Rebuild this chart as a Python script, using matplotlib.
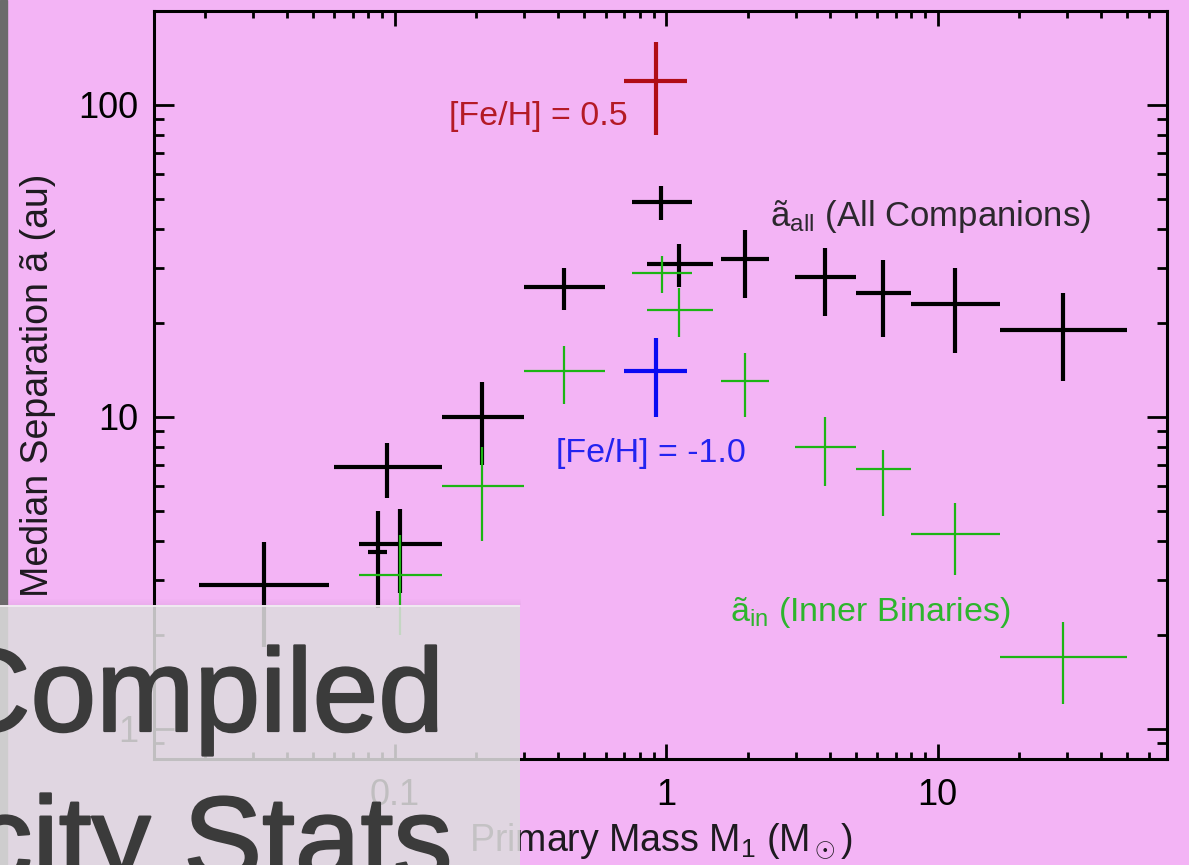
import numpy as np
import matplotlib
matplotlib.use("Agg")
import matplotlib.pyplot as plt
from matplotlib.ticker import LogLocator, FuncFormatter, NullFormatter
from matplotlib.patches import Rectangle
import matplotlib.patheffects as pe

# ---------------- data ----------------
mass_all    = [0.033, 0.094, 0.087, 0.105, 0.21, 0.42, 0.96, 1.12, 1.95, 3.86, 6.3, 11.6, 29.0]
mass_all_lo = [0.019, 0.060, 0.080, 0.074, 0.149, 0.299, 0.746, 0.848, 1.60, 2.99, 4.99, 7.97, 17.0]
mass_all_hi = [0.0575, 0.149, 0.094, 0.149, 0.299, 0.597, 1.245, 1.49, 2.39, 4.99, 7.97, 17.0, 50.0]
sep_all     = [2.9, 6.9, 3.7, 3.9, 10.0, 26.0, 48.8, 31.0, 32.0, 28.0, 25.0, 23.0, 19.0]
sep_all_lo  = [1.83, 5.5, 2.43, 2.72, 7.0, 22.0, 42.9, 26.0, 24.0, 21.0, 18.0, 16.0, 13.0]
sep_all_hi  = [3.98, 8.26, 4.98, 5.08, 12.9, 29.9, 54.8, 35.9, 39.8, 34.9, 31.9, 29.9, 24.9]

mass_in    = [0.105, 0.21, 0.42, 0.965, 1.12, 1.95, 3.86, 6.3, 11.6, 29.0]
mass_in_lo = [0.074, 0.149, 0.299, 0.748, 0.848, 1.60, 2.99, 4.99, 7.97, 17.0]
mass_in_hi = [0.149, 0.299, 0.597, 1.245, 1.49, 2.39, 4.99, 7.97, 17.0, 50.0]
sep_in     = [3.1, 6.0, 14.0, 29.0, 22.0, 13.0, 8.0, 6.8, 4.2, 1.7]
sep_in_lo  = [2.0, 4.0, 11.0, 25.0, 18.0, 10.0, 6.0, 4.8, 3.1, 1.2]
sep_in_hi  = [4.18, 8.0, 16.9, 32.9, 25.9, 16.0, 10.0, 7.8, 5.3, 2.2]

mass_feh    = [0.915, 0.915]
mass_feh_lo = [0.698, 0.698]
mass_feh_hi = [1.193, 1.193]
sep_feh     = [119.6, 14.0]
sep_feh_lo  = [80.0, 10.0]
sep_feh_hi  = [159.5, 17.9]
feh_labels  = ["[Fe/H] = 0.5", "[Fe/H] = -1.0"]

x_ticks = [0.1, 1, 10]
y_ticks = [1, 10, 100]

# ---------------- style ----------------
PINK = "#f3b4f5"
BLACK = "#000000"
GREEN = "#1cb514"
RED = "#b00d16"
BLUE = "#0a0af2"

plt.rcParams["font.family"] = ["Liberation Sans", "DejaVu Sans"]
plt.rcParams["mathtext.fontset"] = "custom"
plt.rcParams["mathtext.rm"] = "Liberation Sans"
plt.rcParams["mathtext.it"] = "Liberation Sans:italic"
plt.rcParams["mathtext.bf"] = "Liberation Sans:bold"

fig = plt.figure(figsize=(11.89, 8.65), dpi=100, facecolor=PINK)
W, H = 1189, 865
ax = fig.add_axes([154 / W, 1 - 759 / H, (1167 - 154) / W, (759 - 11) / H])
ax.set_facecolor(PINK)
ax.set_xscale("log")
ax.set_yscale("log")
ax.set_xlim(0.013, 70)
ax.set_ylim(0.8, 200)


def err(v, lo, hi):
    v = np.asarray(v); lo = np.asarray(lo); hi = np.asarray(hi)
    return np.vstack([v - lo, hi - v])


ax.errorbar(mass_all, sep_all, xerr=err(mass_all, mass_all_lo, mass_all_hi),
            yerr=err(sep_all, sep_all_lo, sep_all_hi), fmt="none",
            ecolor=BLACK, elinewidth=3.0, capsize=0, zorder=3)
ax.errorbar(mass_in, sep_in, xerr=err(mass_in, mass_in_lo, mass_in_hi),
            yerr=err(sep_in, sep_in_lo, sep_in_hi), fmt="none",
            ecolor=GREEN, elinewidth=1.6, capsize=0, zorder=4)
for i, c in enumerate([RED, BLUE]):
    ax.errorbar([mass_feh[i]], [sep_feh[i]],
                xerr=err([mass_feh[i]], [mass_feh_lo[i]], [mass_feh_hi[i]]),
                yerr=err([sep_feh[i]], [sep_feh_lo[i]], [sep_feh_hi[i]]),
                fmt="none", ecolor=c, elinewidth=3.0, capsize=0, zorder=5)

# annotations
ax.text(0.722, 86.5, feh_labels[0], color="#b41a26", fontsize=24.5,
        ha="right", va="baseline")
ax.text(0.394, 7.16, feh_labels[1], color="#2323f0", fontsize=24.5,
        ha="left", va="baseline")
ax.text(2.405, 40.8, r"ã$_{\mathrm{all}}$ (All Companions)", color="#2c282e",
        fontsize=25, ha="left", va="baseline")
ax.text(1.713, 2.21, r"ã$_{\mathrm{in}}$ (Inner Binaries)", color="#2db52d",
        fontsize=24.5, ha="left", va="baseline")

# ticks
ax.xaxis.set_major_locator(LogLocator(base=10, subs=(1.0,)))
ax.yaxis.set_major_locator(LogLocator(base=10, subs=(1.0,)))
ax.xaxis.set_minor_locator(LogLocator(base=10, subs=np.arange(2, 10)))
ax.yaxis.set_minor_locator(LogLocator(base=10, subs=np.arange(2, 10)))
ax.set_xticks(x_ticks)
ax.set_yticks(y_ticks)
fmt = FuncFormatter(lambda v, p: f"{v:g}")
ax.xaxis.set_major_formatter(fmt)
ax.yaxis.set_major_formatter(fmt)
ax.xaxis.set_minor_formatter(NullFormatter())
ax.yaxis.set_minor_formatter(NullFormatter())
ax.tick_params(axis="both", which="both", direction="in", top=True, right=True,
               colors="black", width=2.0, labelsize=26)
ax.tick_params(axis="x", which="major", length=11, pad=14)
ax.tick_params(axis="x", which="minor", length=5)
ax.tick_params(axis="y", which="major", length=14.5, pad=11)
ax.tick_params(axis="y", which="minor", length=7.2)
for s in ax.spines.values():
    s.set_linewidth(2.2)
    s.set_color("black")

ax.set_xlabel(r"Primary Mass M$_1$ (M$_\odot$)", fontsize=27, labelpad=6,
              color="#1e1a20")
ax.set_ylabel("Median Separation ã (au)", fontsize=27, labelpad=16,
              color="#1e1a20")

# ---------------- slide overlay ----------------
ov = fig.add_axes([0, 0, 1, 1], zorder=10)
ov.set_xlim(0, W)
ov.set_ylim(H, 0)
ov.axis("off")
ov.patch.set_alpha(0)
ov.add_patch(Rectangle((0, 0), 7, H, color="#6b6b6b", zorder=1))
for k in range(6):
    ov.add_patch(Rectangle((0, 605 - k - 1), 521, 1, color="#7a507a",
                           alpha=0.06 * (6 - k) / 6, lw=0, zorder=1))
ov.add_patch(Rectangle((0, 605), 520, H - 605, color="#dedcde", alpha=0.87,
                       lw=0, zorder=2))
ov.add_patch(Rectangle((0, 605), 520, 2, color="#f4eef4", alpha=0.8, lw=0, zorder=3))
stroke = [pe.withStroke(linewidth=1.6, foreground="#3b3b3b")]
ov.text(444, 731, "Compiled", fontsize=85, color="#3b3b3b", ha="right",
        va="baseline", zorder=4, path_effects=stroke)
ov.text(452, 879, "city Stats", fontsize=85, color="#3b3b3b", ha="right",
        va="baseline", zorder=4, path_effects=stroke)

fig.savefig("out.png", dpi=100, facecolor=PINK)
